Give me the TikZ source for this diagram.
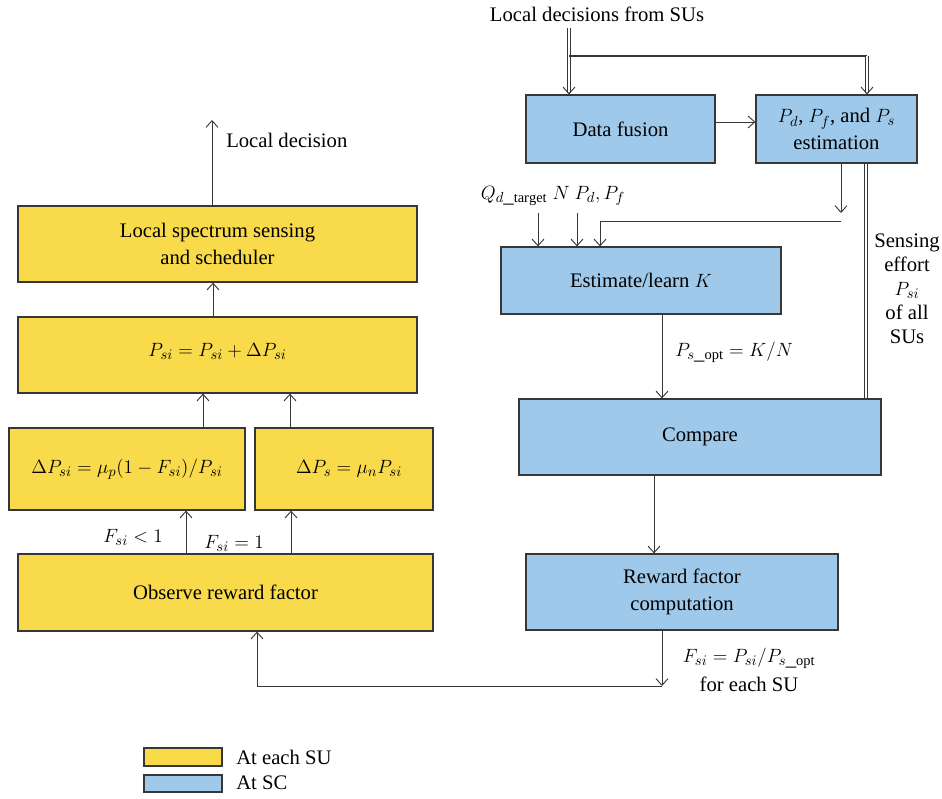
\documentclass[tikz,border=0pt]{standalone}
\usepackage{fontspec}
\setmainfont{Liberation Serif}
\usetikzlibrary{arrows.meta,fit,calc}
\definecolor{suyel}{RGB}{249,218,74}
\definecolor{scblue}{RGB}{158,201,234}
\definecolor{edge}{RGB}{55,55,55}
\begin{document}
\begin{tikzpicture}[x=0.75pt,y=-0.75pt,
  font=\fontsize{15.5}{20}\selectfont,
  ybox/.style={draw=edge,line width=0.9pt,fill=suyel,inner sep=0pt,align=center},
  bbox/.style={draw=edge,line width=0.9pt,fill=scblue,inner sep=0pt,align=center},
  arr/.style={draw=edge,line width=0.7pt,-{Straight Barb[length=5pt,width=9pt]}},
  ln/.style={draw=edge,line width=0.7pt},
  dbl/.style={draw=edge,line width=0.55pt,double=white,double distance=1.6pt},
  lbl/.style={inner sep=0pt,align=center}]
\useasboundingbox (0,0) rectangle (942,799);

% SU side
\node[ybox,fit={(18,206) (417,282)}] (lss) {};
\node[lbl] at (lss.center) {Local spectrum sensing\\and scheduler};
\node[ybox,fit={(18,317) (417,393)}] (psi) {};
\node[lbl] at ($(psi.center)+(0,-4)$) {$P_{si} = P_{si} + \Delta P_{si}$};
\node[ybox,fit={(9,428) (245,510)}] (dpsi) {};
\node[lbl] at (dpsi.center) {$\Delta P_{si} = \mu_p (1-F_{si})/P_{si}$};
\node[ybox,fit={(255,428) (433,510)}] (dps) {};
\node[lbl] at ($(dps.center)+(5,0)$) {$\Delta P_{s} = \mu_n P_{si}$};
\node[ybox,fit={(18,554) (433,631)}] (obs) {};
\node[lbl] at (obs.center) {Observe reward factor};

% SC side
\node[bbox,fit={(526,95) (715,163)}] (df) {};
\node[lbl] at (df.center) {Data fusion};
\node[bbox,fit={(756,95) (917,163)}] (pd) {};
\node[lbl] at (pd.center) {$P_d$, $P_f$, and $P_s$\\estimation};
\node[bbox,fit={(501,247) (781,314)}] (est) {};
\node[lbl] at (est.center) {Estimate/learn $K$};
\node[bbox,fit={(519,399) (881,475)}] (cmp) {};
\node[lbl] at (cmp.center) {Compare};
\node[bbox,fit={(526,554) (838,630)}] (rew) {};
\node[lbl] at (rew.center) {Reward factor\\computation};

% labels
\node[lbl,anchor=west] (ldl) at (226,140) {Local decision};
\node[lbl] (top) at (597,14) {Local decisions from SUs};
\node[lbl] (inp) at (553,196) {$Q_{d\_\mathrm{target}}$ $N$ $P_d, P_f$};
\node[lbl,anchor=west] (popt) at (675,352) {$P_{s\_\mathrm{opt}} = K/N$};
\node[lbl,font=\fontsize{15.5}{18}\selectfont] (sens) at (907,289) {Sensing\\effort\\$P_{si}$\\of all\\SUs};
\node[lbl] (fl1) at (133,537) {$F_{si} < 1$};
\node[lbl] (fe1) at (234,543) {$F_{si} = 1$};
\node[lbl,font=\fontsize{15.5}{22}\selectfont] (fsi) at (749,670) {$F_{si} = P_{si}/P_{s\_\mathrm{opt}}$\\for each SU};

% legend
\node[ybox,fit={(144,748) (222,766)}] (leg1) {};
\node[bbox,fit={(144,775) (222,792)}] (leg2) {};
\node[lbl,anchor=west] (lt1) at (236,757) {At each SU};
\node[lbl,anchor=west] (lt2) at (236,783) {At SC};

% SU connectors
\coordinate (ldtop) at (212,120);
\draw[arr] (212,0 |- lss.north) -- (ldtop);
\draw[arr] (213,0 |- psi.north) -- (213,0 |- lss.south);
\draw[arr] (203,0 |- dpsi.north) -- (203,0 |- psi.south);
\draw[arr] (290,0 |- dps.north) -- (290,0 |- psi.south);
\draw[arr] (186,0 |- obs.north) -- (186,0 |- dpsi.south);
\draw[arr] (291,0 |- obs.north) -- (291,0 |- dps.south);

% feedback
\coordinate (fb) at (662,686);
\draw[arr] (662,0 |- rew.south) -- (fb);
\draw[arr] (fb) -- (257,686) -- (257,0 |- obs.south);

% SC connectors
\coordinate (in1) at (569,28);
\coordinate (br) at (569,56);
\coordinate (br2) at (867,56);
\draw[dbl] (in1) -- ($(569,0 |- df.north)+(0,-1)$);
\draw[arr] ($(569,0 |- df.north)+(0,-1.2)$) -- (569,0 |- df.north);
\draw[ln,line width=1pt] (br) -- (br2);
\draw[dbl] (br2) -- ($(867,0 |- pd.north)+(0,-1)$);
\draw[arr] ($(867,0 |- pd.north)+(0,-1.2)$) -- (867,0 |- pd.north);
\draw[arr] (df.east |- 0,122) -- (pd.west |- 0,122);

\coordinate (pdend) at (841,213);
\coordinate (pdbr) at (841,221);
\draw[arr] (841,0 |- pd.south) -- (pdend);
\draw[arr] (pdbr) -- (600,221) -- (600,0 |- est.north);
\draw[dbl] (866,0 |- pd.south) -- (866,0 |- cmp.north);

\coordinate (q1) at (538,213);
\coordinate (q2) at (577,213);
\draw[arr] (q1) -- (538,0 |- est.north);
\draw[arr] (q2) -- (577,0 |- est.north);
\draw[arr] (662,0 |- est.south) -- (662,0 |- cmp.north);
\draw[arr] (654,0 |- cmp.south) -- (654,0 |- rew.north);
\end{tikzpicture}
\end{document}
